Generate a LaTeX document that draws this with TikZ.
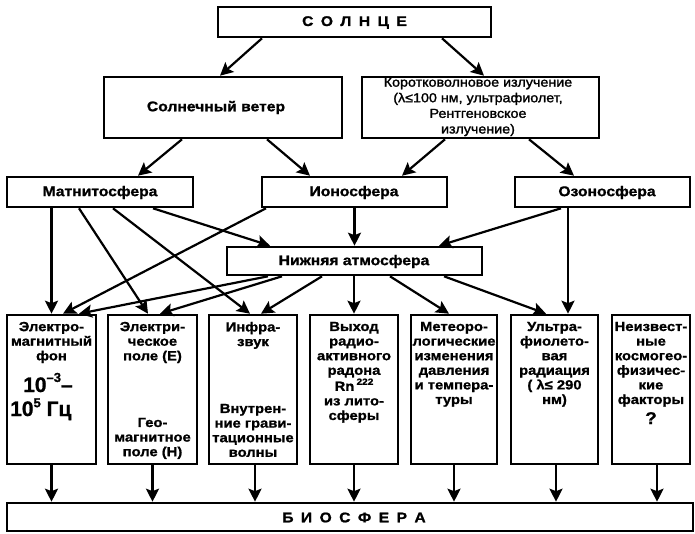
\documentclass[tikz,border=0pt]{standalone}
\usepackage{fontspec}
\setmainfont{Liberation Sans}
\newfontfamily\fb[FakeStretch=1.12,FakeBold=1.2]{Liberation Sans Bold}
\newfontfamily\fr[FakeStretch=1.1,FakeBold=1.6]{Liberation Sans}
\newfontfamily\fbig[FakeBold=1]{Liberation Sans Bold}
\usetikzlibrary{arrows.meta}
\newcommand{\sps}{\kern7.4pt}
\begin{document}
\begin{tikzpicture}[x=1pt,y=-1pt,
  box/.style={draw, line width=2.6pt, inner sep=0pt},
  midtxt/.style={inner sep=0pt, font=\fb\fontsize{14}{16}\selectfont},
  txt/.style={inner sep=0pt, align=center, anchor=north, font=\fb\fontsize{13.2}{14.6}\selectfont},
  arr/.style={line width=2.2pt, -{Stealth[length=13pt,width=13pt,inset=2.5pt]}}]
\useasboundingbox (0,0) rectangle (695,533);
\fill[white] (0,0) rectangle (695,533);
% boxes
\node[box, minimum width=273pt, minimum height=30pt] (sun) at (354.5,22) {};
\node[box, minimum width=238pt, minimum height=61pt] (wind) at (223,107.5) {};
\node[box, minimum width=237pt, minimum height=61pt] (short) at (480.5,107.5) {};
\node[box, minimum width=186pt, minimum height=30pt] (mag) at (100,192) {};
\node[box, minimum width=185pt, minimum height=30pt] (ion) at (354.5,192) {};
\node[box, minimum width=175pt, minimum height=30pt] (ozone) at (602.5,192) {};
\node[box, minimum width=255pt, minimum height=28pt] (low) at (354.5,261) {};
\node[box, minimum width=89pt, minimum height=149pt] (b1) at (51.5,389.5) {};
\node[box, minimum width=89pt, minimum height=149pt] (b2) at (152.5,389.5) {};
\node[box, minimum width=88pt, minimum height=149pt] (b3) at (253,389.5) {};
\node[box, minimum width=88pt, minimum height=149pt] (b4) at (354,389.5) {};
\node[box, minimum width=86pt, minimum height=149pt] (b5) at (454,389.5) {};
\node[box, minimum width=87pt, minimum height=149pt] (b6) at (554.5,389.5) {};
\node[box, minimum width=78pt, minimum height=149pt] (b7) at (651,389.5) {};
\node[box, minimum width=686pt, minimum height=28pt] (bio) at (350,517) {};
% texts
\node[midtxt] (sunt) at (354.5,22.5) {С\sps О\sps Л\sps Н\sps Ц\sps Е};
\node[midtxt] (windt) at (216,107.5) {Солнечный ветер};
\node[inner sep=0pt, align=center, anchor=north, font=\fr\fontsize{13}{15.6}\selectfont] (shortt) at (478,77.5)
  {Коротковолновое излучение\\(λ≤100 нм, ультрафиолет,\\Рентгеновское\\излучение)};
\node[midtxt] (magt) at (100,192.5) {Матнитосфера};
\node[midtxt] (iont) at (354,192.5) {Ионосфера};
\node[midtxt] (ozonet) at (607,192.5) {Озоносфера};
\node[midtxt] (lowt) at (354,261.5) {Нижняя атмосфера};
\node[midtxt] (biot) at (354,517.5) {Б\sps И\sps О\sps С\sps Ф\sps Е\sps Р\sps А};
\node[txt] (t1) at ([yshift=-8pt]b1.north) {Электро-\\магнитный\\фон};
\node[inner sep=0pt, anchor=base west, font=\fbig\fontsize{21}{24}\selectfont] (t1a) at (23,392)
  {10\raisebox{0.48em}{\fontsize{13}{13}\selectfont –3}–};
\node[inner sep=0pt, anchor=base west, font=\fbig\fontsize{21}{24}\selectfont] (t1b) at (10,416)
  {10\raisebox{0.42em}{\fontsize{13}{13}\selectfont 5} Гц};
\node[txt] (t2) at ([yshift=-8pt]b2.north) {Электри-\\ческое\\поле (E)};
\node[txt] (t2b) at ([yshift=-104pt]b2.north) {Гео-\\магнитное\\поле (H)};
\node[txt] (t3) at ([yshift=-8pt]b3.north) {Инфра-\\звук};
\node[txt] (t3b) at ([yshift=-90pt]b3.north) {Внутрен-\\ние грави-\\тационные\\волны};
\node[txt] (t4) at ([yshift=-8pt]b4.north) {Выход\\радио-\\активного\\радона\\Rn\,\raisebox{0.45em}{\fontsize{9}{9}\selectfont 222}\\из лито-\\сферы};
\node[txt] (t5) at ([yshift=-8pt]b5.north) {Метеоро-\\логические\\изменения\\давления\\и темпера-\\туры};
\node[txt] (t6) at ([yshift=-8pt]b6.north) {Ультра-\\фиолето-\\вая\\радиация\\( λ≤ 290\\нм)};
\node[txt] (t7) at ([yshift=-8pt]b7.north) {Неизвест-\\ные\\космогео-\\физичес-\\кие\\факторы};
\node[inner sep=0pt, anchor=base, font=\fb\fontsize{17}{17}\selectfont] (t7q) at (651,424) {?};
% connectors
\draw[arr] ([xshift=-92.5pt]sun.south) -- ([xshift=-3pt]wind.north);
\draw[arr] ([xshift=87.5pt]sun.south) -- ([xshift=3.5pt]short.north);
\draw[arr] ([xshift=-41pt]wind.south) -- ([xshift=38pt]mag.north);
\draw[arr] ([xshift=44pt]wind.south) -- ([xshift=-44.5pt]ion.north);
\draw[arr] ([xshift=-35.5pt]short.south) -- ([xshift=47.5pt]ion.north);
\draw[arr] ([xshift=48.5pt]short.south) -- ([xshift=-28.5pt]ozone.north);
\draw[arr] (b1.north |- mag.south) -- (b1.north);
\draw[arr] ([xshift=-21pt]mag.south) -- ([xshift=-4.5pt]b2.north);
\draw[arr] ([xshift=13pt]mag.south) -- ([xshift=-3pt]b3.north);
\draw[arr] ([xshift=53pt]mag.south) -- ([xshift=-84.5pt]low.north);
\draw[arr] ([xshift=-88.5pt]ion.south) -- ([xshift=11.5pt]b1.north);
\draw[arr] (ion.south) -- (low.north);
\draw[arr] ([xshift=-41.5pt]ozone.south) -- ([xshift=84.5pt]low.north);
\draw[arr] ([xshift=13.5pt]b6.north |- ozone.south) -- ([xshift=13.5pt]b6.north);
\draw[arr] ([xshift=-86.5pt]low.south) -- ([xshift=27.5pt]b1.north);
\draw[arr] ([xshift=-72.5pt]low.south) -- ([xshift=7.5pt]b2.north);
\draw[arr] ([xshift=-32.5pt]low.south) -- ([xshift=8pt]b3.north);
\draw[arr] (b4.north |- low.south) -- (b4.north);
\draw[arr] ([xshift=35.5pt]low.south) -- ([xshift=-5pt]b5.north);
\draw[arr] ([xshift=89.5pt]low.south) -- ([xshift=-8.5pt]b6.north);
\draw[arr] (b1.south) -- (b1.south |- bio.north);
\draw[arr] (b2.south) -- (b2.south |- bio.north);
\draw[arr] ([xshift=2pt]b3.south) -- ([xshift=2pt]b3.south |- bio.north);
\draw[arr] (b4.south) -- (b4.south |- bio.north);
\draw[arr] (b5.south) -- (b5.south |- bio.north);
\draw[arr] ([xshift=1.5pt]b6.south) -- ([xshift=1.5pt]b6.south |- bio.north);
\draw[arr] ([xshift=6pt]b7.south) -- ([xshift=6pt]b7.south |- bio.north);
\end{tikzpicture}
\end{document}
